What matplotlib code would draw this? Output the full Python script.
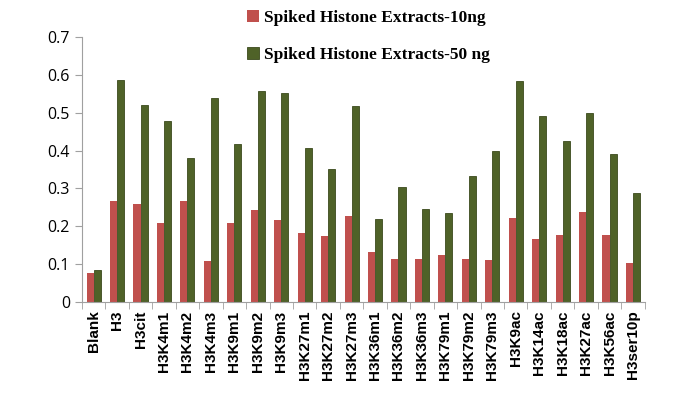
import matplotlib.pyplot as plt
import numpy as np

categories = ["Blank", "H3", "H3cit", "H3K4m1", "H3K4m2", "H3K4m3", "H3K9m1", "H3K9m2",
              "H3K9m3", "H3K27m1", "H3K27m2", "H3K27m3", "H3K36m1", "H3K36m2", "H3K36m3",
              "H3K79m1", "H3K79m2", "H3K79m3", "H3K9ac", "H3K14ac", "H3K18ac", "H3K27ac",
              "H3K56ac", "H3ser10p"]
vals_10ng = [0.078, 0.268, 0.258, 0.208, 0.268, 0.108, 0.210, 0.242, 0.218, 0.182, 0.174,
             0.228, 0.133, 0.113, 0.115, 0.124, 0.113, 0.110, 0.221, 0.166, 0.177, 0.238,
             0.177, 0.104]
vals_50ng = [0.085, 0.587, 0.521, 0.478, 0.380, 0.540, 0.418, 0.558, 0.553, 0.407, 0.352,
             0.518, 0.220, 0.304, 0.246, 0.236, 0.334, 0.400, 0.585, 0.491, 0.425, 0.500,
             0.390, 0.288]
series_names = ["Spiked Histone Extracts-10ng", "Spiked Histone Extracts-50 ng"]

fig = plt.figure(figsize=(7, 3.99), dpi=100)
ax = fig.add_axes([0.117, 0.243, 0.804, 0.664])

x = np.arange(len(categories))
w = 0.3
b1 = ax.bar(x - w / 2, vals_10ng, w, color="#C0504D", label=series_names[0])
b2 = ax.bar(x + w / 2, vals_50ng, w, color="#4F6228", edgecolor="#3b4a1c", linewidth=0.6,
            label=series_names[1])

ax.set_xlim(-0.5, len(categories) - 0.5)
ax.set_ylim(0, 0.7)
ax.set_yticks(np.arange(0, 0.71, 0.1))
ax.set_yticklabels(["0", "0.1", "0.2", "0.3", "0.4", "0.5", "0.6", "0.7"],
                   fontsize=11.5, family="Open Sans")

ax.set_xticks(x)
ax.set_xticklabels(categories, rotation=90, fontsize=11, fontweight="bold",
                   family="Liberation Sans")
ax.tick_params(axis="x", which="major", length=0, pad=6)
ax.set_xticks(np.arange(-0.5, len(categories), 1), minor=True)
ax.tick_params(axis="x", which="minor", length=5, color="#a0a0a0", direction="out")
ax.tick_params(axis="y", length=5, color="#a0a0a0", direction="out")

for s in ["top", "right"]:
    ax.spines[s].set_visible(False)
for s in ["left", "bottom"]:
    ax.spines[s].set_color("#a0a0a0")

fig.legend(handles=[b1, b2], loc="upper left", bbox_to_anchor=(0.33, 1.015),
           frameon=False, handlelength=0.7, handleheight=0.7, handletextpad=0.3,
           labelspacing=1.2, prop={"family": "Liberation Serif", "weight": "bold", "size": 12.5})

fig.savefig("out.png", dpi=100)
